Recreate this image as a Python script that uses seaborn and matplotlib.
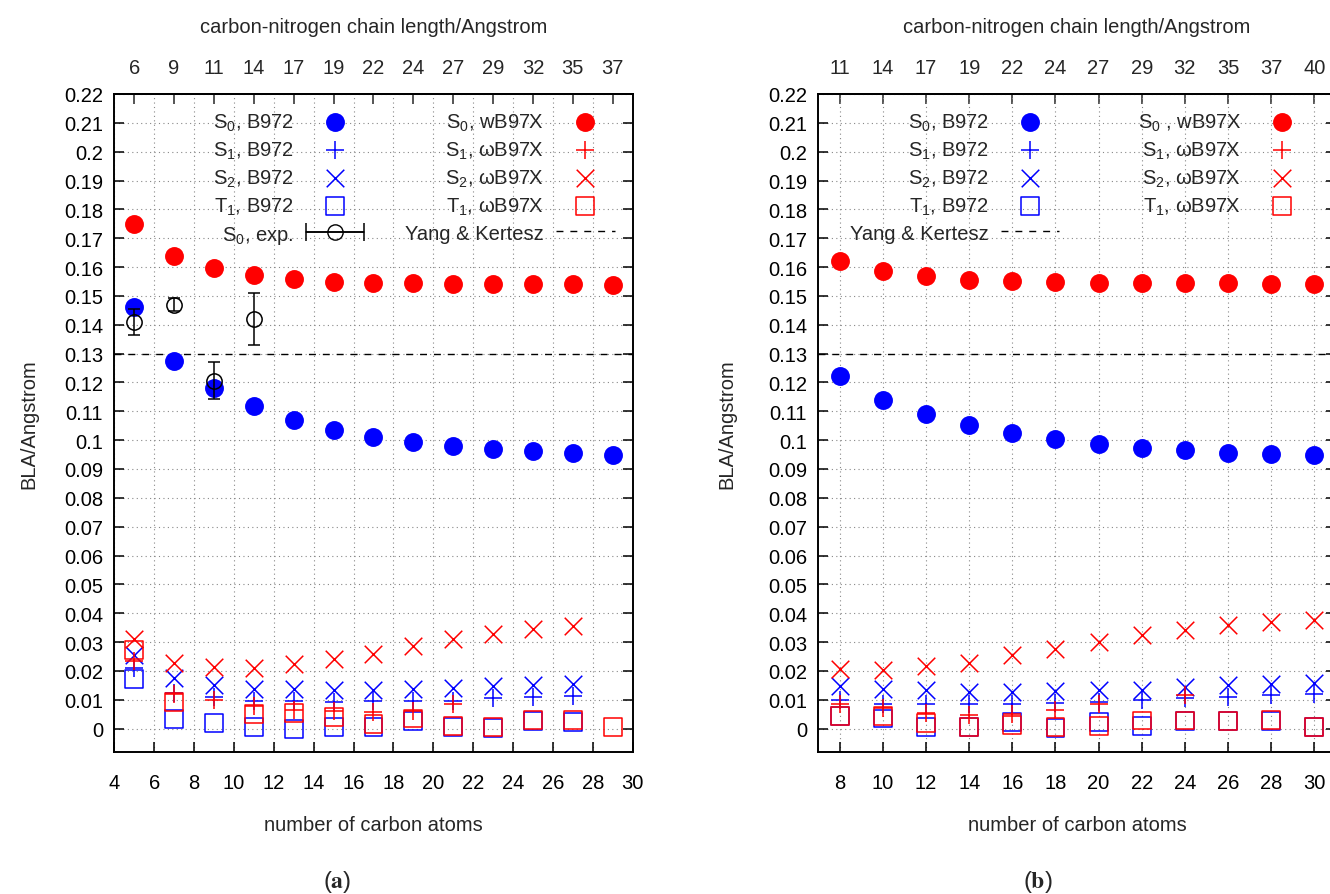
import numpy as np
import matplotlib
matplotlib.use("Agg")
import matplotlib.pyplot as plt
import seaborn as sns
from matplotlib.lines import Line2D
from matplotlib.collections import LineCollection
from matplotlib.container import ErrorbarContainer
from matplotlib.legend_handler import HandlerErrorbar
from matplotlib.ticker import FuncFormatter

nan = np.nan

# ---- panel (a) ----
carbons_a = [5, 7, 9, 11, 13, 15, 17, 19, 21, 23, 25, 27, 29]
chain_a = ["6", "9", "11", "14", "17", "19", "22", "24", "27", "29", "32", "35", "37"]
s0_b972_a = [0.146, 0.1276, 0.1182, 0.1117, 0.1071, 0.1036, 0.1012, 0.0993, 0.098, 0.097, 0.0963, 0.0956, 0.095]
s1_b972_a = [0.021, 0.0125, 0.0108, 0.0095, 0.0095, 0.0092, 0.0095, 0.0095, 0.0097, 0.0105, 0.0108, 0.0112, nan]
s2_b972_a = [0.0254, 0.0175, 0.0152, 0.0139, 0.0136, 0.0135, 0.0135, 0.0136, 0.0141, 0.0147, 0.015, 0.0156, nan]
t1_b972_a = [0.0173, 0.0034, 0.002, 0.0006, 0.0, 0.0006, 0.0006, 0.0027, 0.0006, 0.0003, 0.0025, 0.0023, nan]
s0_wb97x_a = [0.175, 0.164, 0.1596, 0.1571, 0.1557, 0.1549, 0.1546, 0.1543, 0.1542, 0.1542, 0.1541, 0.1541, 0.1539]
s1_wb97x_a = [0.0235, 0.012, 0.0098, 0.0078, 0.0064, 0.0062, 0.0058, 0.0062, 0.0087, nan, nan, nan, nan]
s2_wb97x_a = [0.031, 0.0226, 0.0214, 0.0211, 0.0223, 0.0243, 0.026, 0.0286, 0.031, 0.0327, 0.0346, 0.0356, nan]
t1_wb97x_a = [0.0273, 0.0092, nan, 0.0052, 0.0054, 0.004, 0.0015, 0.0035, 0.0008, 0.0005, 0.003, 0.003, 0.0006]
exp_x = [5, 7, 9, 11]
exp_y = [0.1408, 0.147, 0.1206, 0.1419]
exp_err = [0.0045, 0.0024, 0.0065, 0.009]

# ---- panel (b) ----
carbons_b = [8, 10, 12, 14, 16, 18, 20, 22, 24, 26, 28, 30]
chain_b = ["11", "14", "17", "19", "22", "24", "27", "29", "32", "35", "37", "40"]
s0_b972_b = [0.1221, 0.1139, 0.1089, 0.1051, 0.1024, 0.1003, 0.0987, 0.0973, 0.0966, 0.0957, 0.0953, 0.0948]
s1_b972_b = [0.0098, 0.0087, 0.0087, 0.0087, 0.0087, 0.0088, 0.0092, 0.0099, 0.0105, 0.011, 0.0117, 0.0121]
s2_b972_b = [0.0148, 0.0139, 0.0135, 0.0127, 0.0127, 0.013, 0.0135, 0.0134, 0.0144, 0.015, 0.0153, 0.0159]
t1_b972_b = [0.0044, 0.0035, 0.0005, 0.0005, 0.0023, 0.0001, 0.0023, 0.0008, 0.0025, 0.0025, 0.0026, 0.0005]
s0_wb97x_b = [0.1621, 0.1586, 0.1568, 0.1556, 0.1551, 0.1547, 0.1544, 0.1544, 0.1543, 0.1543, 0.1542, 0.1542]
s1_wb97x_b = [0.0087, 0.0072, 0.0055, 0.0048, 0.005, 0.0064, 0.0087, nan, 0.0115, nan, nan, nan]
s2_wb97x_b = [0.0208, 0.0204, 0.0216, 0.0229, 0.0256, 0.0277, 0.03, 0.0326, 0.0343, 0.0358, 0.0369, 0.0375]
t1_wb97x_b = [0.0045, 0.0045, 0.002, 0.0005, 0.0013, 0.0005, 0.0008, 0.0028, 0.0028, 0.0026, 0.0031, 0.0006]

yang_kertesz = 0.13
y_ticks = np.round(np.arange(0, 0.2201, 0.01), 2)

BLUE = "#0000ff"
RED = "#ff0000"
FS = 14.5

sns.set_theme(style="white")
plt.rcParams["font.family"] = ["Liberation Sans", "DejaVu Sans"]
plt.rcParams["mathtext.fontset"] = "custom"
plt.rcParams["mathtext.rm"] = "Liberation Sans"
plt.rcParams["mathtext.it"] = "Liberation Sans:italic"
plt.rcParams["mathtext.bf"] = "Liberation Sans:bold"
plt.rcParams["mathtext.default"] = "regular"
plt.rcParams["axes.edgecolor"] = "black"
plt.rcParams["axes.linewidth"] = 1.4
plt.rcParams["font.size"] = FS


def draw_points(ax, x, y, marker, color, label):
    kw = dict(x=x, y=y, ax=ax, marker=marker, color=color, label=label,
              legend=False, zorder=3)
    if marker == "o":
        kw.update(s=185, linewidth=0)
    elif marker == "s":
        kw.update(s=165, facecolor="none", edgecolor=color, linewidth=1.1)
    elif marker == "x":
        kw.update(s=160, linewidth=1.1)
    else:
        kw.update(s=175, linewidth=1.1)
    sns.scatterplot(**kw)


def style_axes(ax, xlim, xticks):
    ax.set_xlim(*xlim)
    ax.set_ylim(-0.008, 0.22)
    ax.set_xticks(xticks)
    ax.set_yticks(y_ticks)
    ax.yaxis.set_major_formatter(FuncFormatter(lambda v, p: f"{v:g}"))
    ax.grid(True, linestyle=(0, (1, 3)), color="#888888", linewidth=0.8)
    ax.tick_params(axis="both", direction="in", length=7.5, width=1.1,
                   labelsize=FS, colors="black")
    ax.tick_params(axis="x", top=False, bottom=True, pad=15.5)
    ax.tick_params(axis="y", left=True, right=True, pad=8)
    ax.set_xlabel("number of carbon atoms", fontsize=FS)
    ax.xaxis.set_label_coords(0.5, -0.097)
    ax.set_ylabel("BLA/Angstrom", fontsize=FS)
    for s in ax.spines.values():
        s.set_linewidth(1.4)
        s.set_color("black")


def top_axis(ax, ticks, labels):
    sec = ax.secondary_xaxis("top")
    sec.set_xticks(ticks, labels=labels)
    sec.tick_params(direction="in", length=7.5, width=1.1, labelsize=FS, pad=12)
    sec.set_xlabel("carbon-nitrogen chain length/Angstrom", fontsize=FS,
                   labelpad=19)
    return sec


def exp_proxy(label):
    line = Line2D([], [], color="black", marker="o", markersize=11,
                  markerfacecolor="none", markeredgecolor="black", linewidth=1.1)
    caps = (Line2D([], [], color="black", marker="|", markersize=13,
                   linestyle="none", markeredgewidth=1.1),)
    bars = (LineCollection([], colors="black", linewidths=1.1),)
    return ErrorbarContainer((line, caps, bars), has_xerr=True, has_yerr=False,
                             label=label)


fig = plt.figure(figsize=(13.3, 8.95), dpi=100)
ax_a = fig.add_axes([0.0859, 0.159, 0.3898, 0.7349])
ax_b = fig.add_axes([0.6152, 0.159, 0.3892, 0.7349])

labels_b972 = ["S$_0$, B972", "S$_1$, B972", "S$_2$, B972", "T$_1$, B972"]

# ---- draw panel (a) ----
series_a = [
    (s0_b972_a, "o", BLUE, labels_b972[0]),
    (s1_b972_a, "+", BLUE, labels_b972[1]),
    (s2_b972_a, "x", BLUE, labels_b972[2]),
    (t1_b972_a, "s", BLUE, labels_b972[3]),
    (s0_wb97x_a, "o", RED, "S$_0$, wB97X"),
    (s1_wb97x_a, "+", RED, "S$_1$, ωB97X"),
    (s2_wb97x_a, "x", RED, "S$_2$, ωB97X"),
    (t1_wb97x_a, "s", RED, "T$_1$, ωB97X"),
]
for y, m, c, lab in series_a:
    draw_points(ax_a, carbons_a, y, m, c, lab)
ax_a.errorbar(exp_x, exp_y, yerr=exp_err, fmt="o", color="black", markersize=11,
              markerfacecolor="none", markeredgewidth=1.1, elinewidth=1.1,
              capsize=4.5, capthick=1.1, zorder=4)
yk_a = ax_a.axhline(yang_kertesz, color="black", linewidth=1.0,
                    linestyle=(0, (5, 5)), label="Yang & Kertesz", zorder=2)
style_axes(ax_a, (4, 30), np.arange(4, 31, 2))
ax_a.yaxis.set_label_coords(-0.147, 0.5)
top_axis(ax_a, carbons_a, chain_a)

hl = {h.get_label(): h for h in ax_a.collections}
exp_h = exp_proxy("S$_0$, exp.")
order_a = [hl[s[3]] for s in series_a[:4]] + [exp_h] + [hl[s[3]] for s in series_a[4:]] + [yk_a]
HL = 2.9
ax_a.legend(handles=order_a, labels=[h.get_label() for h in order_a], ncol=2,
            markerfirst=False, frameon=False, fontsize=FS, loc="upper right",
            bbox_to_anchor=(0.965, 0.973), borderaxespad=0, borderpad=0,
            handlelength=HL, handletextpad=0.6, columnspacing=2.05,
            labelspacing=0.33, scatterpoints=1,
            handler_map={exp_h: HandlerErrorbar(xerr_size=HL / 2)})

# ---- draw panel (b) ----
series_b = [
    (s0_b972_b, "o", BLUE, labels_b972[0]),
    (s1_b972_b, "+", BLUE, labels_b972[1]),
    (s2_b972_b, "x", BLUE, labels_b972[2]),
    (t1_b972_b, "s", BLUE, labels_b972[3]),
    (s0_wb97x_b, "o", RED, "S$_0$ , wB97X"),
    (s1_wb97x_b, "+", RED, "S$_1$, ωB97X"),
    (s2_wb97x_b, "x", RED, "S$_2$, ωB97X"),
    (t1_wb97x_b, "s", RED, "T$_1$, ωB97X"),
]
for y, m, c, lab in series_b:
    draw_points(ax_b, carbons_b, y, m, c, lab)
yk_b = ax_b.axhline(yang_kertesz, color="black", linewidth=1.0,
                    linestyle=(0, (5, 5)), label="Yang & Kertesz", zorder=2)
style_axes(ax_b, (7, 31), carbons_b)
ax_b.yaxis.set_label_coords(-0.159, 0.5)
top_axis(ax_b, carbons_b, chain_b)

hl = {h.get_label(): h for h in ax_b.collections}
order_b = [hl[s[3]] for s in series_b[:4]] + [yk_b] + [hl[s[3]] for s in series_b[4:]]
ax_b.legend(handles=order_b, labels=[h.get_label() for h in order_b], ncol=2,
            markerfirst=False, frameon=False, fontsize=FS, loc="upper left",
            bbox_to_anchor=(0.061, 0.973), borderaxespad=0, borderpad=0,
            handlelength=HL, handletextpad=0.6, columnspacing=3.9,
            labelspacing=0.33, scatterpoints=1)

fig.text(337 / 1330, 1 - 882 / 895, r"$(\mathbf{a})$", math_fontfamily="stix",
         fontsize=17, ha="center", va="center")
fig.text(1038 / 1330, 1 - 882 / 895, r"$(\mathbf{b})$", math_fontfamily="stix",
         fontsize=17, ha="center", va="center")

fig.savefig("out.png", dpi=100)
